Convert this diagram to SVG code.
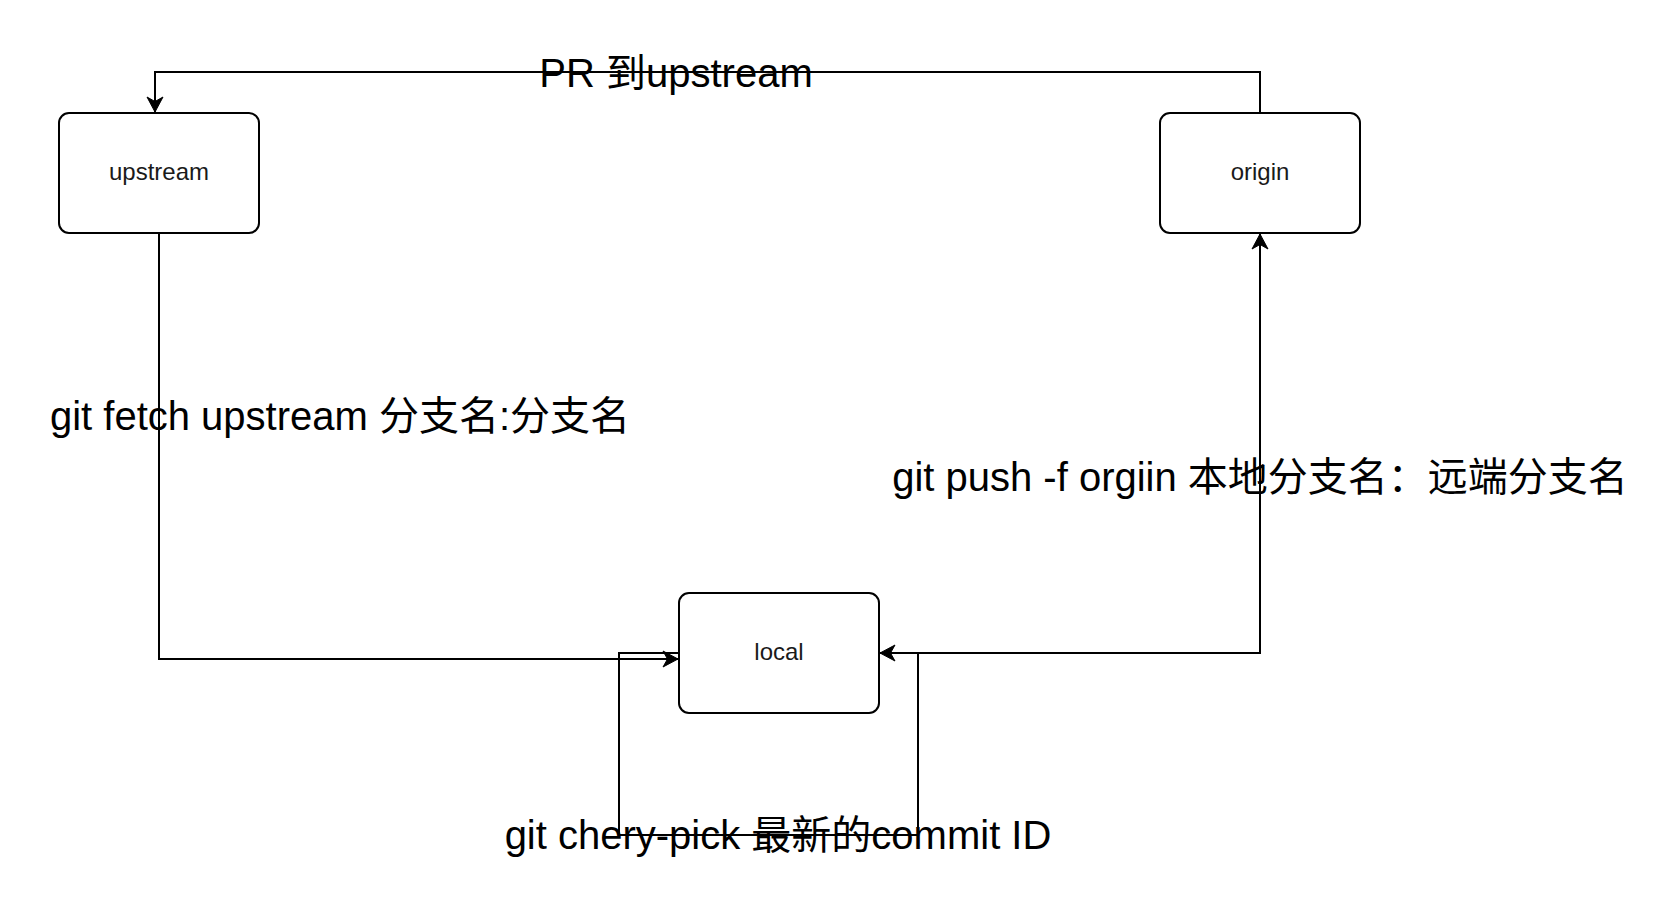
<svg xmlns="http://www.w3.org/2000/svg" width="1678" height="906" viewBox="0 0 1678 906">
<style>
.node{fill:#fff;stroke:#000;stroke-width:2}
.nt{font-family:"Liberation Sans",Arial,"Noto Sans CJK SC",sans-serif;font-size:24px;fill:#1a1a1a;text-anchor:middle}
.edge{fill:none;stroke:#000;stroke-width:2}
.lbl{font-family:"Liberation Sans",Arial,"Noto Sans CJK SC",sans-serif;font-size:40px;fill:#000;text-anchor:middle}
</style>
<defs>
<marker id="arr" viewBox="-16 -9 17 18" refX="0" refY="0" markerWidth="17" markerHeight="18" markerUnits="userSpaceOnUse" orient="auto">
<path d="M0,0 L-15,-8 L-10.5,0 L-15,8 Z" fill="#000" stroke="#000" stroke-width="1"/>
</marker>
</defs>
<rect width="1678" height="906" fill="#fff"/>
<g id="connectors">
<path class="edge" d="M1260 113 V72 H155 V112" marker-end="url(#arr)"/>
<path class="edge" d="M159 233 V659 H678" marker-end="url(#arr)"/>
<path class="edge" d="M879 653 H1260 V234" marker-end="url(#arr)"/>
<path class="edge" d="M679 653 H619 V835 H918 V653 H880" marker-end="url(#arr)"/>
</g>
<g id="node-upstream">
<rect class="node" x="59" y="113" width="200" height="120" rx="10"/>
<text class="nt" x="159" y="180">upstream</text>
</g>
<g id="node-origin">
<rect class="node" x="1160" y="113" width="200" height="120" rx="10"/>
<text class="nt" x="1260" y="180">origin</text>
</g>
<g id="node-local">
<rect class="node" x="679" y="593" width="200" height="120" rx="10"/>
<text class="nt" x="779" y="660">local</text>
</g>
<g id="labels">
<text class="lbl" x="676" y="87">PR 到upstream</text>
<text class="lbl" x="340" y="430">git fetch upstream 分支名:分支名</text>
<text class="lbl" x="1260" y="491">git push -f orgiin 本地分支名：远端分支名</text>
<text class="lbl" x="778" y="849">git chery-pick 最新的commit ID</text>
</g>
</svg>
